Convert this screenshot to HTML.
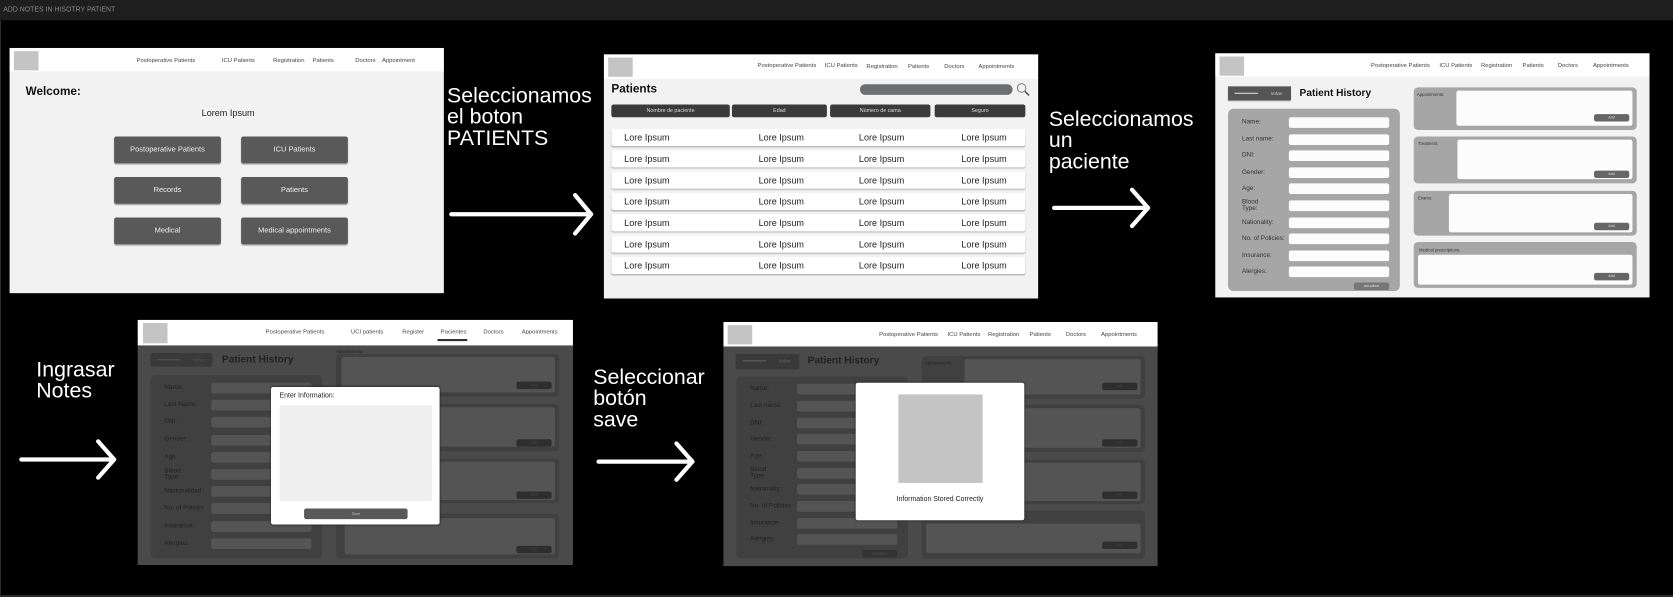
<!DOCTYPE html>
<html><head><meta charset="utf-8"><style>
*{margin:0;padding:0;box-sizing:border-box}
html,body{width:1673px;height:597px;overflow:hidden;background:#000}
#s{position:absolute;left:0;top:0;width:1568px;height:560px;transform:scale(1.06696,1.06607);transform-origin:0 0;font-family:"Liberation Sans",sans-serif}
.a{position:absolute}
.t{position:absolute;white-space:nowrap}
.fr{position:absolute;width:407px;height:229px;background:#f2f2f2;overflow:hidden}
.nav{position:absolute;left:0;top:0;width:100%;height:22px;background:#fff}
.logo{position:absolute;left:4px;top:3px;width:23px;height:18px;background:#c4c4c4}
.ni{position:absolute;font-size:5.5px;color:#444;white-space:nowrap}
.big{position:absolute;color:#fff;font-size:20px;line-height:20px}
.btn{position:absolute;width:100px;height:25px;background:#595959;border-radius:2px;color:#eee;font-size:7px;text-align:center;line-height:25px;box-shadow:0 1px 1px #999}
.hb{position:absolute;top:47px;height:12px;background:#3a3a3a;border-radius:2px;color:#ddd;font-size:5px;text-align:center;line-height:12px}
.row{position:absolute;left:7px;width:388px;height:16px;background:#fff;border-radius:2px;box-shadow:0 1px 1px #bbb;font-size:8.5px;color:#222}
.row span{position:absolute;top:3px}
.lp{position:absolute;left:12px;top:52px;width:161px;height:171px;background:#a6a6a6;border-radius:5px}
.lb{position:absolute;left:25px;font-size:6px;color:#333;white-space:nowrap;line-height:5.5px}
.in{position:absolute;left:69px;width:94px;height:10px;background:#fcfcfc;border-radius:2px}
.rp{position:absolute;left:186px;width:209px;background:#a6a6a6;border-radius:4px}
.ta{position:absolute;background:#fcfcfc;border-radius:2px}
.add{position:absolute;left:355px;width:33px;height:7px;background:#666;border-radius:2px;color:#ddd;font-size:3.5px;text-align:center;line-height:7px}
.pl{position:absolute;font-size:4px;color:#333;white-space:nowrap}
.dk{background:#4a4a4a}
.dk .lp,.dk .rp{background:#404040}
.dk .in,.dk .ta{background:#545454}
.dk .add{background:#2e2e2e;color:#444}
.dk .lb,.dk .pl{color:#222}
</style></head><body><div id="s">
<div class="a" style="left:0;top:0;width:1568px;height:19px;background:#1e1e1e"></div>
<div class="t" style="left:3px;top:6px;font-size:6.5px;color:#8a8a8a">ADD NOTES IN HISOTRY PATIENT</div>
<div class="a" style="left:0;top:19px;width:1px;height:541px;background:#2a2a2a"></div>
<div class="a" style="left:0;top:558px;width:1568px;height:2px;background:#2a2a2a"></div>

<!-- Frame 1 -->
<div class="fr" style="left:9px;top:45px;width:407px;height:230px">
 <div class="nav"><div class="logo"></div>
  <div class="ni" style="left:119px;top:9px">Postoperative Patients</div>
  <div class="ni" style="left:199px;top:9px">ICU Patients</div>
  <div class="ni" style="left:247px;top:9px">Registration</div>
  <div class="ni" style="left:284px;top:9px">Patients</div>
  <div class="ni" style="left:324px;top:9px">Doctors</div>
  <div class="ni" style="left:349px;top:9px">Appointment</div>
 </div>
 <div class="t" style="left:15px;top:35px;font-size:11px;font-weight:bold;color:#111">Welcome:</div>
 <div class="t" style="left:180px;top:56px;font-size:8.5px;color:#222">Lorem Ipsum</div>
 <div class="btn" style="left:98px;top:83px">Postoperative Patients</div>
 <div class="btn" style="left:217px;top:83px">ICU Patients</div>
 <div class="btn" style="left:98px;top:121px">Records</div>
 <div class="btn" style="left:217px;top:121px">Patients</div>
 <div class="btn" style="left:98px;top:159px">Medical</div>
 <div class="btn" style="left:217px;top:159px">Medical appointments</div>
</div>

<div class="big" style="left:419px;top:80px">Seleccionamos<br>el boton<br>PATIENTS</div>
<svg class="a" style="left:0;top:0" width="1568" height="560">
 <g stroke="#fff" stroke-width="4" fill="none" stroke-linecap="round" stroke-linejoin="round">
  <path d="M423 201H553M539 183L554 201L539 219"/>
  <path d="M988 195H1075M1061 178L1076 195L1061 212"/>
  <path d="M20 431H106M92 414L107 431L92 448"/>
  <path d="M561 433H648M634 416L649 433L634 450"/>
 </g>
</svg>

<!-- Frame 2 -->
<div class="fr" style="left:566px;top:51px">
 <div class="nav" style="height:23px"><div class="logo"></div>
  <div class="ni" style="left:144px;top:8px">Postoperative Patients</div>
  <div class="ni" style="left:207px;top:8px">ICU Patients</div>
  <div class="ni" style="left:246px;top:9px">Registration</div>
  <div class="ni" style="left:285px;top:9px">Patients</div>
  <div class="ni" style="left:319px;top:9px">Doctors</div>
  <div class="ni" style="left:351px;top:9px">Appointments</div>
 </div>
 <div class="t" style="left:7px;top:27px;font-size:11px;font-weight:bold;color:#111">Patients</div>
 <div class="a" style="left:240px;top:28px;width:143px;height:10px;background:#6b6f6f;border-radius:5px"></div>
 <svg class="a" style="left:386px;top:26px" width="14" height="14"><circle cx="5.5" cy="5.5" r="4" stroke="#888" stroke-width="1" fill="none"/><path d="M8.5 8.5L12.5 12.5" stroke="#555" stroke-width="1.5"/></svg>
 <div class="hb" style="left:7px;width:111px">Nombre de paciente</div>
 <div class="hb" style="left:120px;width:89px">Edad</div>
 <div class="hb" style="left:212px;width:94px">Número de cama</div>
 <div class="hb" style="left:310px;width:85px">Seguro</div>
 <div class="row" style="top:70px"><span style="left:12px">Lore Ipsum</span><span style="left:138px">Lore Ipsum</span><span style="left:232px">Lore Ipsum</span><span style="left:328px">Lore Ipsum</span></div>
 <div class="row" style="top:90px"><span style="left:12px">Lore Ipsum</span><span style="left:138px">Lore Ipsum</span><span style="left:232px">Lore Ipsum</span><span style="left:328px">Lore Ipsum</span></div>
 <div class="row" style="top:110px"><span style="left:12px">Lore Ipsum</span><span style="left:138px">Lore Ipsum</span><span style="left:232px">Lore Ipsum</span><span style="left:328px">Lore Ipsum</span></div>
 <div class="row" style="top:130px"><span style="left:12px">Lore Ipsum</span><span style="left:138px">Lore Ipsum</span><span style="left:232px">Lore Ipsum</span><span style="left:328px">Lore Ipsum</span></div>
 <div class="row" style="top:150px"><span style="left:12px">Lore Ipsum</span><span style="left:138px">Lore Ipsum</span><span style="left:232px">Lore Ipsum</span><span style="left:328px">Lore Ipsum</span></div>
 <div class="row" style="top:170px"><span style="left:12px">Lore Ipsum</span><span style="left:138px">Lore Ipsum</span><span style="left:232px">Lore Ipsum</span><span style="left:328px">Lore Ipsum</span></div>
 <div class="row" style="top:190px"><span style="left:12px">Lore Ipsum</span><span style="left:138px">Lore Ipsum</span><span style="left:232px">Lore Ipsum</span><span style="left:328px">Lore Ipsum</span></div>
</div>

<div class="big" style="left:983px;top:102px">Seleccionamos<br>un<br>paciente</div>

<!-- Frame 3 -->
<div class="fr" style="left:1139px;top:50px">
 <div class="nav"><div class="logo"></div>
  <div class="ni" style="left:146px;top:9px">Postoperative Patients</div>
  <div class="ni" style="left:210px;top:9px">ICU Patients</div>
  <div class="ni" style="left:249px;top:9px">Registration</div>
  <div class="ni" style="left:288px;top:9px">Patients</div>
  <div class="ni" style="left:321px;top:9px">Doctors</div>
  <div class="ni" style="left:354px;top:9px">Appointments</div>
 </div>
 <div class="a" style="left:12px;top:31px;width:59px;height:13px;background:#555;box-shadow:0 1px 1px #888"><div class="a" style="left:6px;top:6px;width:22px;height:1px;background:#ddd"></div><div class="t" style="left:40px;top:4px;font-size:4px;color:#ccc">Volver</div></div>
 <div class="t" style="left:79px;top:32px;font-size:9.5px;font-weight:bold;color:#111">Patient History</div>
 <div class="lp"></div>
 <div class="lb" style="top:63px">Name:</div><div class="in" style="top:60px"></div>
 <div class="lb" style="top:79px">Last name:</div><div class="in" style="top:76px"></div>
 <div class="lb" style="top:94px">DNI:</div><div class="in" style="top:91px"></div>
 <div class="lb" style="top:110px">Gender:</div><div class="in" style="top:107px"></div>
 <div class="lb" style="top:125px">Age:</div><div class="in" style="top:122px"></div>
 <div class="lb" style="top:138px">Blood<br>Type:</div><div class="in" style="top:138px"></div>
 <div class="lb" style="top:157px">Nationality:</div><div class="in" style="top:154px"></div>
 <div class="lb" style="top:172px">No. of Policies:</div><div class="in" style="top:169px"></div>
 <div class="lb" style="top:188px">Insurance:</div><div class="in" style="top:185px"></div>
 <div class="lb" style="top:203px">Alergies:</div><div class="in" style="top:200px"></div>
 <div class="a" style="left:130px;top:215px;width:33px;height:7px;background:#777;border-radius:2px;color:#ddd;font-size:3.5px;text-align:center;line-height:7px">actualizar</div>
 <div class="rp" style="top:32px;height:40px"></div><div class="pl" style="left:189px;top:36px">Appointments:</div><div class="ta" style="left:226px;top:35px;width:165px;height:33px"></div><div class="add" style="top:57px">Add</div>
 <div class="rp" style="top:78px;height:44px"></div><div class="pl" style="left:190px;top:82px">Treatment:</div><div class="ta" style="left:227px;top:81px;width:164px;height:37px"></div><div class="add" style="top:110px">Add</div>
 <div class="rp" style="top:129px;height:42px"></div><div class="pl" style="left:190px;top:133px">Exams:</div><div class="ta" style="left:219px;top:132px;width:172px;height:36px"></div><div class="add" style="top:159px">Add</div>
 <div class="rp" style="top:177px;height:43px"></div><div class="pl" style="left:191px;top:182px">Medical prescriptions:</div><div class="ta" style="left:190px;top:189px;width:201px;height:28px"></div><div class="add" style="top:206px">Add</div>
</div>

<div class="big" style="left:34px;top:337px">Ingrasar<br>Notes</div>

<!-- Frame 4 -->
<div class="fr dk" style="left:129px;top:300px;width:408px;height:230px">
 <div class="nav" style="height:24px"><div class="logo" style="left:5px;top:3px;height:19px"></div>
  <div class="ni" style="left:120px;top:9px">Postoperative Patients</div>
  <div class="ni" style="left:200px;top:9px">UCI patients</div>
  <div class="ni" style="left:248px;top:9px">Register</div>
  <div class="ni" style="left:284px;top:9px">Pacientes</div>
  <div class="a" style="left:281px;top:18px;width:28px;height:1.5px;background:#333"></div>
  <div class="ni" style="left:324px;top:9px">Doctors</div>
  <div class="ni" style="left:360px;top:9px">Appointments</div>
 </div>
 <div class="a" style="left:12px;top:31px;width:58px;height:13px;background:#393939;border-radius:2px"><div class="a" style="left:6px;top:6px;width:22px;height:1px;background:#555"></div><div class="t" style="left:40px;top:4px;font-size:4px;color:#555">Volver</div></div>
 <div class="t" style="left:79px;top:32px;font-size:9.5px;font-weight:bold;color:#222">Patient History</div>
 <div class="lp" style="top:52px;height:172px"></div>
 <div class="lb" style="top:62px">Name:</div><div class="in" style="top:59px"></div>
 <div class="lb" style="top:78px">Last Name:</div><div class="in" style="top:75px"></div>
 <div class="lb" style="top:94px">DNI:</div><div class="in" style="top:91px"></div>
 <div class="lb" style="top:110px">Gender:</div><div class="in" style="top:108px"></div>
 <div class="lb" style="top:127px">Age</div><div class="in" style="top:124px"></div>
 <div class="lb" style="top:140px">Blood<br>Type:</div><div class="in" style="top:140px"></div>
 <div class="lb" style="top:159px">Nacionalidad:</div><div class="in" style="top:156px"></div>
 <div class="lb" style="top:175px">No. of Policys</div><div class="in" style="top:172px"></div>
 <div class="lb" style="top:192px">Insurance:</div><div class="in" style="top:189px"></div>
 <div class="lb" style="top:208px">Alergies:</div><div class="in" style="top:205px"></div>
 <div class="pl" style="left:186px;top:27px">Appointments:</div>
 <div class="rp" style="top:32px;height:40px"></div><div class="ta" style="left:191px;top:35px;width:200px;height:33px"></div><div class="add" style="top:58px">add</div>
 <div class="rp" style="top:79px;height:44px"></div><div class="ta" style="left:191px;top:82px;width:200px;height:37px"></div><div class="add" style="top:112px">add</div>
 <div class="rp" style="top:130px;height:42px"></div><div class="ta" style="left:191px;top:133px;width:200px;height:36px"></div><div class="add" style="top:161px">add</div>
 <div class="rp" style="top:182px;height:42px"></div><div class="ta" style="left:194px;top:186px;width:197px;height:34px"></div><div class="add" style="top:212px">add</div>
 <div class="a" style="left:125px;top:63px;width:158px;height:129px;background:#fff;border-radius:2px;box-shadow:0 0 2px #222">
  <div class="t" style="left:8px;top:5px;font-size:6.5px;color:#222">Enter Information:</div>
  <div class="a" style="left:8px;top:17px;width:143px;height:90px;background:#efefef;border-radius:2px"></div>
  <div class="a" style="left:31px;top:114px;width:97px;height:10px;background:#595959;border-radius:2px;color:#bbb;font-size:3.5px;text-align:center;line-height:10px">Save</div>
 </div>
</div>

<div class="big" style="left:556px;top:344px">Seleccionar<br>botón<br>save</div>

<!-- Frame 5 -->
<div class="fr dk" style="left:678px;top:302px">
 <div class="nav" style="height:23px"><div class="logo"></div>
  <div class="ni" style="left:146px;top:9px">Postoperative Patients</div>
  <div class="ni" style="left:210px;top:9px">ICU Patients</div>
  <div class="ni" style="left:248px;top:9px">Registration</div>
  <div class="ni" style="left:287px;top:9px">Patients</div>
  <div class="ni" style="left:321px;top:9px">Doctors</div>
  <div class="ni" style="left:354px;top:9px">Appointments</div>
 </div>
 <div class="a" style="left:12px;top:30px;width:59px;height:13px;background:#393939;box-shadow:0 1px 1px #333"><div class="a" style="left:6px;top:6px;width:22px;height:1px;background:#666"></div><div class="t" style="left:40px;top:4px;font-size:4px;color:#666">Volver</div></div>
 <div class="t" style="left:79px;top:31px;font-size:9.5px;font-weight:bold;color:#222">Patient History</div>
 <div class="lp" style="top:51px;height:171px"></div>
 <div class="lb" style="top:61px">Name:</div><div class="in" style="top:58px"></div>
 <div class="lb" style="top:77px">Last name:</div><div class="in" style="top:74px"></div>
 <div class="lb" style="top:93px">DNI:</div><div class="in" style="top:90px"></div>
 <div class="lb" style="top:108px">Gender:</div><div class="in" style="top:105px"></div>
 <div class="lb" style="top:124px">Age:</div><div class="in" style="top:121px"></div>
 <div class="lb" style="top:137px">Blood<br>Type:</div><div class="in" style="top:137px"></div>
 <div class="lb" style="top:155px">Nationality:</div><div class="in" style="top:152px"></div>
 <div class="lb" style="top:171px">No. of Policies:</div><div class="in" style="top:168px"></div>
 <div class="lb" style="top:187px">Insurance:</div><div class="in" style="top:184px"></div>
 <div class="lb" style="top:202px">Alergies:</div><div class="in" style="top:199px"></div>
 <div class="a" style="left:130px;top:214px;width:33px;height:7px;background:#333;border-radius:2px;color:#555;font-size:3.5px;text-align:center;line-height:7px">actualizar</div>
 <div class="rp" style="top:32px;height:40px"></div><div class="pl" style="left:189px;top:36px">Appointments:</div><div class="ta" style="left:226px;top:35px;width:165px;height:33px"></div><div class="add" style="top:57px">Add</div>
 <div class="rp" style="top:78px;height:44px"></div><div class="ta" style="left:190px;top:81px;width:201px;height:37px"></div><div class="add" style="top:110px">Add</div>
 <div class="rp" style="top:129px;height:42px"></div><div class="ta" style="left:190px;top:132px;width:201px;height:36px"></div><div class="add" style="top:159px">Add</div>
 <div class="rp" style="top:177px;height:45px"></div><div class="ta" style="left:190px;top:189px;width:201px;height:28px"></div><div class="add" style="top:206px">Add</div>
 <div class="a" style="left:124px;top:57px;width:158px;height:129px;background:#fff;border-radius:2px;box-shadow:0 0 2px #222">
  <div class="a" style="left:40px;top:11px;width:79px;height:83px;background:#c4c4c4"></div>
  <div class="t" style="left:0;width:158px;text-align:center;top:106px;font-size:6.5px;color:#222">Information Stored Correctly</div>
 </div>
</div>
</div></body></html>
